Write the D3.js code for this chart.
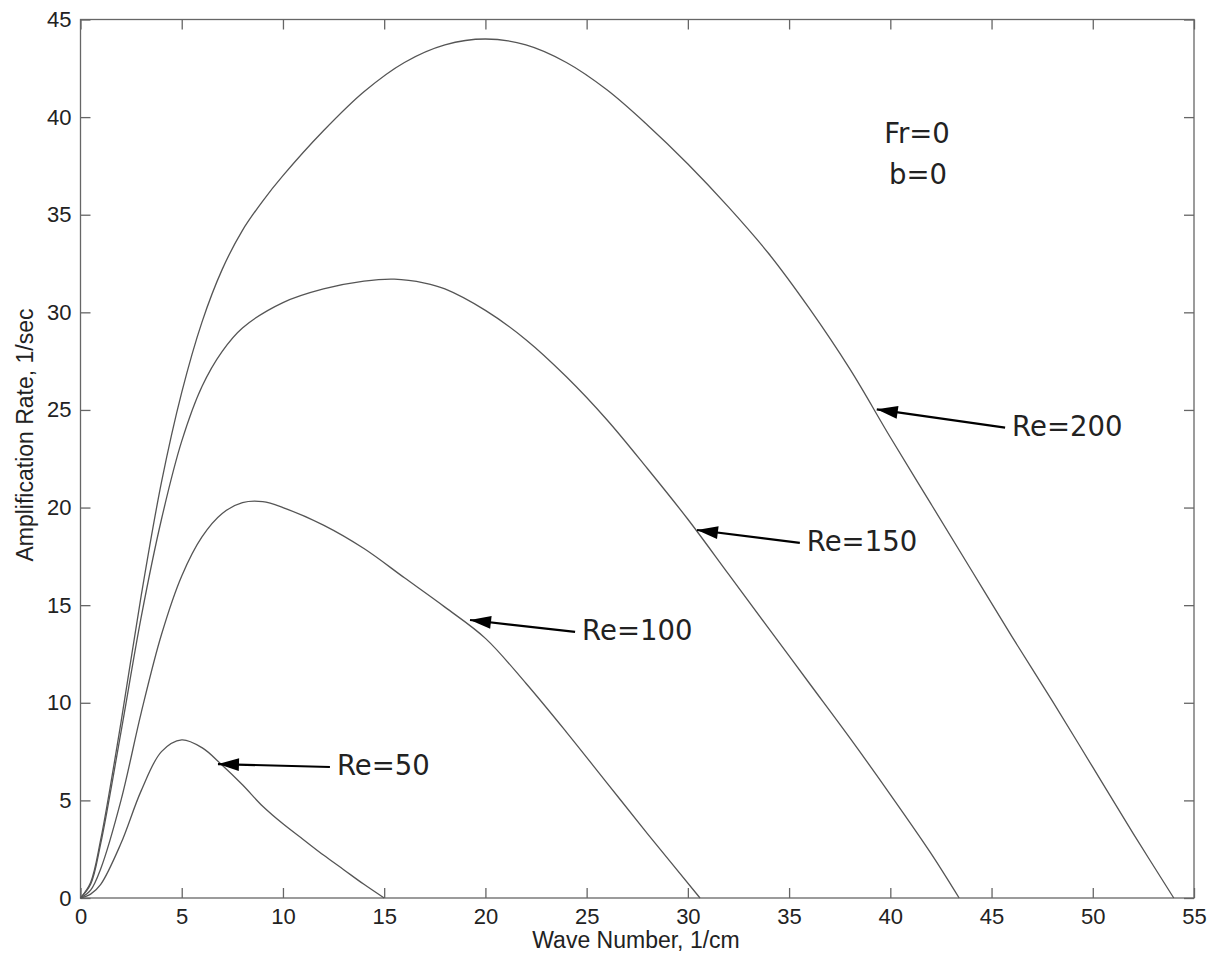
<!DOCTYPE html>
<html>
<head>
<meta charset="utf-8">
<script src="https://cdn.jsdelivr.net/npm/d3@7"></script>
<style>
  body { margin: 0; background: #fff; }
  .tick text { font-family: "Liberation Sans", Arial, sans-serif; font-size: 22px; fill: #222; }
  .axis-title { font-family: "Liberation Sans", Arial, sans-serif; font-size: 23px; fill: #222; }
  .note { font-family: "DejaVu Sans", sans-serif; font-size: 27.5px; fill: #222; }
</style>
</head>
<body>
<div id="chart"></div>
<script>
// wave number (1/cm) vs amplification rate (1/sec)
var re200X = [0, 0.5, 1, 2, 3, 4, 5, 6, 7, 8, 9, 10, 12, 14, 16, 18, 20, 22, 24, 26, 28, 30, 32, 34, 36, 38, 40, 42, 44, 46, 48, 50, 52, 54];
var re200Y = [0, 0.8, 3, 9, 15.5, 21.3, 25.9, 29.5, 32.2, 34.2, 35.7, 37, 39.3, 41.3, 42.8, 43.7, 44, 43.7, 42.8, 41.4, 39.6, 37.6, 35.4, 33, 30.2, 27.1, 23.6, 20.2, 16.8, 13.4, 10.1, 6.7, 3.3, 0];

var re150X = [0, 0.5, 1, 2, 3, 4, 5, 6, 7, 8, 10, 12, 14, 15.5, 17, 18, 20, 22, 24, 26, 28, 30, 32, 34, 36, 38, 40, 42, 43.4];
var re150Y = [0, 0.7, 2.8, 8.5, 14.4, 19.4, 23.4, 26.2, 28, 29.2, 30.5, 31.2, 31.6, 31.7, 31.5, 31.2, 30.1, 28.6, 26.7, 24.5, 22, 19.4, 16.6, 13.8, 11, 8.2, 5.3, 2.3, 0];

var re100X = [0, 0.5, 1, 2, 3, 4, 5, 6, 7, 8, 9, 10, 12, 14, 16, 18, 20, 22, 24, 26, 28, 30.6];
var re100Y = [0, 0.4, 1.5, 5, 9.5, 13.5, 16.5, 18.5, 19.7, 20.25, 20.3, 20, 19.1, 17.9, 16.4, 14.9, 13.3, 11, 8.5, 5.9, 3.3, 0];

var re50X = [0, 0.5, 1, 2, 3, 4, 5, 6, 7, 8, 9, 10, 11, 12, 13, 14, 15];
var re50Y = [0, 0.2, 0.7, 2.8, 5.5, 7.5, 8.1, 7.7, 6.8, 5.8, 4.7, 3.8, 3, 2.2, 1.45, 0.7, 0];

var xTicks = [0, 5, 10, 15, 20, 25, 30, 35, 40, 45, 50, 55];
var yTicks = [0, 5, 10, 15, 20, 25, 30, 35, 40, 45];

// arrow labels: text, arrow tip, arrow tail (data units)
var labelText = ["Re=200", "Re=150", "Re=100", "Re=50"];
var labelTip = [[39.33, 25.03], [30.45, 18.85], [19.24, 14.24], [6.79, 6.86]];
var labelTail = [[45.67, 24.09], [35.53, 18.19], [24.43, 13.63], [12.32, 6.71]];

var svgWidth = 1211;
var svgHeight = 953;

var margin = {
  top: 19.5,
  right: 17,
  bottom: 55,
  left: 80.5
};

var width = svgWidth - margin.left - margin.right;
var height = svgHeight - margin.top - margin.bottom;

var svg = d3.select("#chart")
  .append("svg")
  .attr("width", svgWidth)
  .attr("height", svgHeight);

var defs = svg.append("defs");
defs.append("marker")
  .attr("id", "head")
  .attr("viewBox", "-22 -7 24 14")
  .attr("markerUnits", "userSpaceOnUse")
  .attr("markerWidth", 24)
  .attr("markerHeight", 14)
  .attr("refX", 0)
  .attr("refY", 0)
  .attr("orient", "auto")
  .append("path")
  .attr("d", "M0,0 L-21,-6.5 L-21,6.5 Z")
  .attr("fill", "#000");

var chartGroup = svg.append("g")
  .attr("transform", `translate(${margin.left}, ${margin.top})`);

var x = d3.scaleLinear().domain([0, 55]).range([0, width]);
var y = d3.scaleLinear().domain([0, 45]).range([height, 0]);

// axes, MATLAB style: ticks inward on all four sides
var axisColor = "#666";
function styleAxis(g) {
  g.select(".domain").remove();
  g.selectAll(".tick line").attr("stroke", axisColor).attr("stroke-width", 1.3);
}

chartGroup.append("g")
  .attr("transform", `translate(0, ${height})`)
  .call(d3.axisBottom(x).tickValues(xTicks).tickSize(-10).tickPadding(10))
  .call(styleAxis);

chartGroup.append("g")
  .call(d3.axisLeft(y).tickValues(yTicks).tickSize(-10).tickPadding(9))
  .call(styleAxis);

chartGroup.append("g")
  .call(d3.axisTop(x).tickValues(xTicks).tickSize(-10).tickFormat(""))
  .call(styleAxis);

chartGroup.append("g")
  .attr("transform", `translate(${width}, 0)`)
  .call(d3.axisRight(y).tickValues(yTicks).tickSize(-10).tickFormat(""))
  .call(styleAxis);

chartGroup.append("rect")
  .attr("width", width)
  .attr("height", height)
  .attr("fill", "none")
  .attr("stroke", axisColor)
  .attr("stroke-width", 1.3);

// curves
var line = d3.line()
  .x(d => x(d[0]))
  .y(d => y(d[1]))
  .curve(d3.curveCatmullRom.alpha(0.5));

[[re50X, re50Y], [re100X, re100Y], [re150X, re150Y], [re200X, re200Y]].forEach(function(s) {
  var pts = s[0].map((v, i) => [v, s[1][i]]);
  chartGroup.append("path")
    .datum(pts)
    .attr("d", line)
    .attr("fill", "none")
    .attr("stroke", "#555")
    .attr("stroke-width", 1.3);
});

// arrows + labels
labelText.forEach(function(t, i) {
  chartGroup.append("line")
    .attr("x1", x(labelTail[i][0]))
    .attr("y1", y(labelTail[i][1]))
    .attr("x2", x(labelTip[i][0]))
    .attr("y2", y(labelTip[i][1]))
    .attr("stroke", "#000")
    .attr("stroke-width", 2.2)
    .attr("marker-end", "url(#head)");

  chartGroup.append("text")
    .attr("class", "note")
    .attr("x", x(labelTail[i][0]) + 7)
    .attr("y", y(labelTail[i][1]) - 2)
    .attr("dy", "0.36em")
    .text(t);
});

chartGroup.append("text")
  .attr("class", "note")
  .attr("text-anchor", "middle")
  .attr("x", x(41.32))
  .attr("y", y(39.16))
  .attr("dy", "0.36em")
  .text("Fr=0");

chartGroup.append("text")
  .attr("class", "note")
  .attr("text-anchor", "middle")
  .attr("x", x(41.37))
  .attr("y", y(37.06))
  .attr("dy", "0.36em")
  .text("b=0");

// axis titles
svg.append("text")
  .attr("class", "axis-title")
  .attr("text-anchor", "middle")
  .attr("x", 636)
  .attr("y", 948)
  .text("Wave Number, 1/cm");

svg.append("text")
  .attr("class", "axis-title")
  .attr("text-anchor", "middle")
  .attr("transform", "translate(33, 435) rotate(-90)")
  .text("Amplification Rate, 1/sec");
</script>
</body>
</html>
